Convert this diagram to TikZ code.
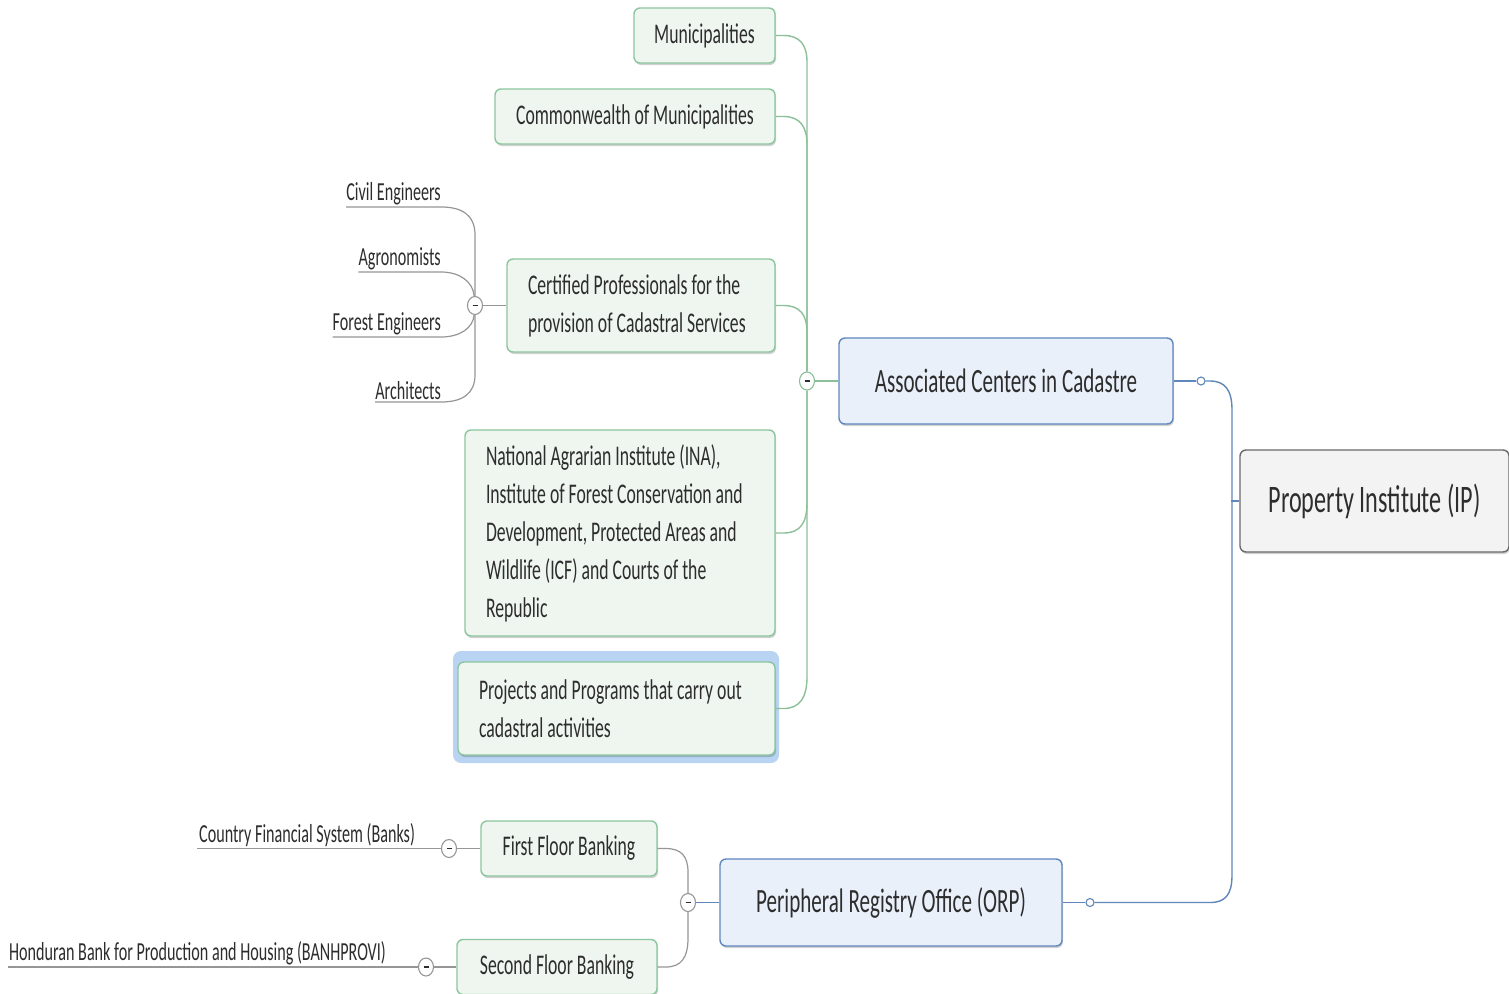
\documentclass[tikz,border=0pt]{standalone}
\usepackage{fontspec}
\setmainfont[FakeStretch=0.62]{Carlito}
\usetikzlibrary{shadows,shapes.geometric}
\definecolor{gfill}{RGB}{238,246,239}
\definecolor{gborder}{RGB}{140,198,158}
\definecolor{gline}{RGB}{140,192,152}
\definecolor{bfill}{RGB}{233,240,250}
\definecolor{bborder}{RGB}{95,135,192}
\definecolor{bline}{RGB}{95,135,185}
\definecolor{rfill}{RGB}{243,243,243}
\definecolor{rborder}{RGB}{105,105,105}
\definecolor{lline}{RGB}{150,150,150}
\definecolor{txt}{RGB}{45,45,45}
\definecolor{selfill}{RGB}{185,212,242}
\begin{document}
\begin{tikzpicture}[x=1pt,y=-1pt,
  every node/.style={text=txt},
  boxbase/.style={rectangle, rounded corners=6pt, line width=1.4pt, inner sep=0pt,
     drop shadow={shadow xshift=1pt, shadow yshift=-2pt, opacity=0.18, fill=black}},
  gbox/.style={boxbase, draw=gborder, fill=gfill, font=\fontsize{28.5}{38}\selectfont},
  bbox/.style={boxbase, draw=bborder, fill=bfill, font=\fontsize{34}{40}\selectfont},
  rbox/.style={boxbase, draw=rborder, fill=rfill, font=\fontsize{39}{44}\selectfont},
  leaf/.style={inner xsep=0pt, inner ysep=2pt, font=\fontsize{26}{30}\selectfont},
  collapse/.style={ellipse, draw=#1, fill=white, line width=1.1pt, minimum width=15pt, minimum height=18pt, inner sep=0pt,
     path picture={\draw[line width=1.6pt, txt] ([xshift=-2.5pt]path picture bounding box.center) -- ([xshift=2.5pt]path picture bounding box.center);}},
  dot/.style={circle, draw=bline, fill=white, line width=1.1pt, minimum size=8pt, inner sep=0pt},
  gl/.style={draw=gline, line width=1.4pt},
  bl/.style={draw=bline, line width=1.4pt},
  ll/.style={draw=lline, line width=1.2pt}
]
\useasboundingbox (0,0) rectangle (1509,993);
\fill[white] (0,0) rectangle (1509,993);

% ---- main nodes
\node[rbox, minimum width=269pt, minimum height=102pt] (ip) at (1374.5,501) {Property Institute (IP)};
\node[bbox, minimum width=334pt, minimum height=86pt] (acc) at (1006,381) {Associated Centers in Cadastre};
\node[bbox, minimum width=342pt, minimum height=87pt] (per) at (891,902.5) {Peripheral Registry Office (ORP)};

% ---- cadastre children
\node[gbox, minimum width=141pt, minimum height=55pt] (mun) at (704.5,35.5) {Municipalities};
\node[gbox, minimum width=280pt, minimum height=55pt] (com) at (635,116.5) {Commonwealth of Municipalities};
\node[gbox, minimum width=268pt, minimum height=93pt, inner xsep=21pt, text width=226pt, align=flush left] (cer) at (641,305.5)
  {\mbox{Certified Professionals for the}\\\mbox{provision of Cadastral Services}};
\node[gbox, minimum width=310pt, minimum height=206pt, inner xsep=21pt, text width=268pt, align=flush left] (nat) at (620,533)
  {\mbox{National Agrarian Institute (INA),}\\\mbox{Institute of Forest Conservation and}\\\mbox{Development, Protected Areas and}\\\mbox{Wildlife (ICF) and Courts of the}\\\mbox{Republic}};
\fill[selfill, rounded corners=8pt] (453,651) rectangle (779,763);
\node[gbox, minimum width=317pt, minimum height=93pt, inner xsep=21pt, text width=275pt, align=flush left] (pro) at (616.5,708.5)
  {\mbox{Projects and Programs that carry out}\\\mbox{cadastral activities}};

% ---- professionals leaves
\node[leaf, anchor=south east] (civ) at (441,207) {Civil Engineers};
\node[leaf, anchor=south east] (agr) at (441,272) {Agronomists};
\node[leaf, anchor=south east] (for) at (441,337) {Forest Engineers};
\node[leaf, anchor=south east] (arc) at (441,402) {Architects};

% ---- banking
\node[gbox, minimum width=176pt, minimum height=55pt] (ffb) at (569,848.5) {First Floor Banking};
\node[gbox, minimum width=200pt, minimum height=55pt] (sfb) at (557,967) {Second Floor Banking};
\node[leaf, anchor=south west] (cfs) at (197,848.5) {\hspace{2pt}Country Financial System (Banks)};
\node[leaf, anchor=south west] (hon) at (8,967) {\hspace{1pt}Honduran Bank for Production and Housing (BANHPROVI)};

% ---- collapse markers
\node[collapse=gline] (c1) at (807,381) {};
\node[collapse=lline] (c4) at (475,305.5) {};
\node[collapse=lline] (c7) at (688,902.5) {};
\node[collapse=lline] (c5) at (449,848.5) {};
\node[collapse=lline] (c6) at (426,967) {};
\node[dot] (c2) at (1201,381) {};
\node[dot] (c3) at (1090,902.5) {};

% ---- green connectors
\draw[gl] (mun.east) -- ++(8,0) .. controls (800,35.5) and (807,45) .. (807,62) -- (c1);
\draw[gl] (com.east) -- ++(8,0) .. controls (800,116.5) and (807,127) .. (807,144) -- (c1);
\draw[gl] (cer.east) -- ++(8,0) .. controls (800,305.5) and (807,315) .. (807,332) -- (c1);
\draw[gl] (c1) -- (807,503) .. controls (807,523) and (800,533) .. ([xshift=8pt]nat.east) -- (nat.east);
\draw[gl] (c1) -- (807,677) .. controls (807,697) and (800,708.5) .. ([xshift=8pt]pro.east) -- (pro.east);
\draw[gl] (c1) -- (acc.west);

% ---- blue connectors
\draw[bl] (acc.east) -- (c2);
\draw[bl] (c2) -- (1210,381) .. controls (1225,381) and (1232,390) .. (1232,410) -- (1232,875)
   .. controls (1232,895) and (1225,902.5) .. (1210,902.5) -- (c3);
\draw[bl] (c3) -- (per.east);
\draw[bl, line width=2.6pt] (ip.west) -- ++(-8,0);
\draw[bl] (c7) -- (per.west);

% ---- grey connectors
\draw[ll] (civ.south west) -- (civ.south east) .. controls (462,207) and (475,215) .. (475,235) -- (c4);
\draw[ll] (agr.south west) -- (agr.south east) .. controls (460,272) and (473,282) .. (c4);
\draw[ll] (for.south west) -- (for.south east) .. controls (460,337) and (473,328) .. (c4);
\draw[ll] (arc.south west) -- (arc.south east) .. controls (462,402) and (475,394) .. (475,375) -- (c4);
\draw[ll] (c4) -- (cer.west);
\draw[ll] (ffb.east) -- ++(8,0) .. controls (681,848.5) and (688,856) .. (688,872) -- (c7);
\draw[ll] (sfb.east) -- ++(8,0) .. controls (681,967) and (688,958) .. (688,938) -- (c7);
\draw[ll] (cfs.south west) -- (c5);
\draw[ll] (c5) -- (ffb.west);
\draw[ll] (hon.south west) -- (c6);
\draw[ll] (c6) -- (sfb.west);
\end{tikzpicture}
\end{document}
